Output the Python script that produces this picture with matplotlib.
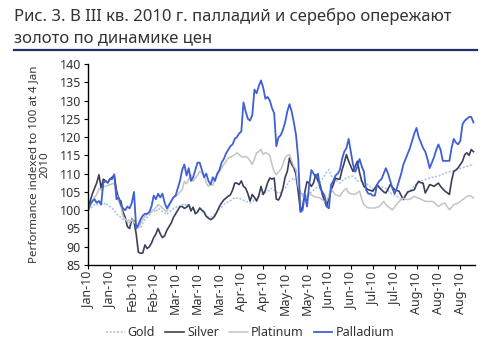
import matplotlib
matplotlib.use("Agg")
import matplotlib.pyplot as plt
import numpy as np

plt.rcParams['font.family'] = ['Noto Sans', 'DejaVu Sans']

title_lines = ["Рис. 3. В III кв. 2010 г. палладий и серебро опережают",
               "золото по динамике цен"]
y_label = "Performance indexed to 100 at 4 Jan\n2010"
series_names = ["Gold", "Silver", "Platinum", "Palladium"]
tick_labels = ["Jan-10", "Jan-10", "Feb-10", "Feb-10", "Mar-10", "Mar-10", "Mar-10",
               "Apr-10", "Apr-10", "May-10", "May-10", "Jun-10", "Jun-10", "Jul-10",
               "Jul-10", "Aug-10", "Aug-10", "Aug-10"]
y_ticks = [85, 90, 95, 100, 105, 110, 115, 120, 125, 130, 135, 140]

# trading-day readings, starting 4 Jan 2010
gold = [100, 100.5, 101, 101.5, 101.3, 102.5, 101.8, 101.5, 102, 101.3,
        101, 100.5, 100, 99, 98.5, 98, 97.5, 97.2, 96.8, 97.5,
        97.8, 97, 96, 95.5, 95.2, 96.5, 97.5, 98, 98.5, 99.5,
        100, 99.5, 100.5, 100.2, 99.6, 99.4, 98.8, 99.5, 100, 100.4,
        100.6, 101.2, 101, 101.5, 101.8, 101, 101.5, 100.6, 100.5, 99.5,
        99.8, 100.4, 100.2, 99, 98.5, 98.2, 98, 98.4, 99, 99.6,
        100.3, 100.8, 101.5, 102, 102.2, 102.6, 103, 103.5, 103.3, 103.3,
        103, 102.7, 102.5, 102.2, 102, 102.2, 102.8, 103.2, 103.8, 104.2,
        104.5, 104.8, 105.2, 105.5, 106, 105.5, 105, 104.6, 104.8, 105.5,
        106, 107, 108, 108.4, 108.8, 108, 106, 104.2, 104.5, 104,
        103.8, 104.2, 105, 105.5, 106, 106.5, 107.5, 108.5, 109.5, 110.5,
        111.1, 109.5, 108.8, 108.2, 107.8, 107.4, 108, 108.5, 108.8, 109,
        109.2, 109.3, 108.8, 108, 108.2, 108, 107.5, 107.2, 107, 106.3,
        105.6, 105.8, 106.2, 106.5, 106.3, 106.1, 106, 105.3, 104.7, 104.5,
        104.2, 103.8, 103.3, 102.9, 103.5, 104.2, 104.8, 105.4, 106, 106.6,
        107.2, 107.6, 108, 108.2, 108.4, 108.6, 108.8, 109, 109, 109.2,
        109.3, 109.6, 109.9, 110.2, 110.4, 110.5, 110.6, 110.8, 111.1, 111.2,
        111.4, 111.6, 111.8, 112, 112.1, 112.3, 112.5]

silver = [100, 102.5, 104.5, 106, 107.5, 109.7, 106, 108.5, 108, 107.5,
          108.5, 109, 109.5, 105.5, 103, 102.5, 99.5, 98, 95.5, 95,
          97.5, 97, 93.5, 88.5, 88.2, 88.3, 90.5, 89.5, 90, 91,
          92.5, 93.5, 95, 93.5, 92.5, 93, 94.5, 95.5, 96.5, 98,
          99, 100, 101, 101, 100.5, 100.8, 101.5, 99.8, 100.8, 99,
          99.5, 100.6, 100, 99.5, 98.3, 97.8, 97.4, 97.8, 98.5, 99.7,
          101, 102, 102.8, 103.3, 103.8, 104.2, 105.5, 107.4, 107.4, 107,
          108, 106.5, 106, 104.5, 102.5, 104.3, 103.5, 102.5, 104, 106.5,
          104.3, 105.5, 107.5, 108.8, 108.5, 108.8, 103, 102.8, 104, 106,
          109, 110.6, 114.3, 112.5, 111.6, 109.7, 105, 99.7, 101, 105,
          107.8, 107.4, 106.5, 107.5, 109.7, 108, 107, 104.3, 102.5, 101,
          103.5, 105.5, 107, 108.8, 108.5, 108.5, 111, 113, 115.2, 113.4,
          112, 110.6, 112, 113.4, 110.2, 108, 106.5, 106, 105.6, 105.4,
          105.2, 106, 107, 106.2, 105.6, 105, 104.7, 105.8, 107, 106.3,
          105.6, 105.4, 105.2, 104, 102.9, 104, 105, 105.2, 105.4, 105.6,
          107, 107.9, 107.5, 107.4, 104.7, 105.8, 107, 106.8, 106.5, 107,
          107.4, 106.5, 105.8, 105.2, 104.8, 104.3, 108, 110.6, 111, 111.6,
          112.5, 113.4, 115.2, 115.7, 115, 116.6, 116]

platinum = [100, 101.5, 102.4, 103.5, 104.3, 106, 105.5, 106.5, 106.5, 106.8,
            107, 107.2, 107.4, 104.3, 102.5, 101, 98.3, 97.5, 96.9, 96.5,
            97.4, 96.8, 96, 95.1, 96.5, 97.5, 98.3, 98.8, 99.3, 99.7,
            100.1, 100.8, 101.5, 101.2, 100.6, 100.1, 99.7, 101, 102.4, 103.5,
            103.8, 104.2, 105, 105.6, 107.9, 107.2, 108.5, 109.7, 107.9, 108.8,
            109.5, 110.6, 110.2, 109.7, 107.4, 106.5, 107.2, 106.8, 108.8, 109.5,
            110.6, 111.5, 112.5, 113.3, 114.3, 114.5, 114.8, 115.2, 115.7, 115.2,
            114.7, 114.5, 114.7, 114.3, 113.5, 112.5, 114, 115.7, 116, 116.6,
            115.2, 115.8, 115.5, 115, 112.5, 110.6, 109.7, 110.5, 111.1, 112.5,
            114.3, 115, 115.2, 113.5, 112, 111.1, 106.5, 105, 103.8, 103.3,
            104, 104.7, 104.2, 103.8, 103.6, 103.5, 103.3, 102.8, 102.4, 102.5,
            104, 106, 105, 104.2, 104, 103.8, 104.8, 105.5, 106, 104.7,
            104.5, 104.4, 104.3, 104.8, 105.2, 103, 101.5, 101, 100.6, 100.6,
            100.6, 100.6, 100.8, 101, 101.7, 102.4, 101.5, 101, 100.5, 100.1,
            100.8, 101.6, 102.4, 102.8, 103.3, 103, 102.9, 103, 103.4, 103.8,
            103.5, 103.3, 103, 102.7, 102.4, 102.4, 102.4, 102.4, 102.2, 101.5,
            101, 101.4, 101.8, 101.9, 101, 100.1, 100.8, 101.5, 101.7, 101.9,
            102.4, 102.9, 103.3, 103.7, 104, 103.8, 103.3]

palladium = [100, 101.5, 102.5, 103, 102, 102.5, 101.5, 107.5, 108, 107.5,
             108.5, 108.5, 109.8, 103, 103.5, 101.5, 100.5, 100, 101, 100.5,
             102, 105, 95, 96, 97.5, 98.5, 99, 99, 99.5, 101,
             104, 103, 104.5, 103.5, 104.5, 102, 100.5, 101.5, 102.5, 103.5,
             104, 106, 108, 111, 112.5, 109.5, 111.5, 108, 109, 111,
             113, 113, 111, 109, 110, 108, 107, 109, 108, 110,
             111, 113, 114, 115.5, 116.5, 117.5, 118, 119.5, 120, 121,
             121.5, 129.5, 127, 125, 124.5, 126, 133, 132, 134, 135.5,
             133.5, 130.5, 131, 130, 128, 126.5, 117.5, 120, 120.5, 122,
             124, 127, 129, 127, 124, 120.5, 114, 99.5, 100, 104.5,
             101, 107, 111, 110, 109, 110, 106, 105, 104, 101,
             100.5, 107, 108, 109.5, 110, 111, 114, 116, 117, 119.5,
             116, 112.5, 110.5, 112, 114, 112, 110.5, 105.5, 104.5, 104.5,
             104, 104, 107, 108, 108.5, 110, 111.5, 110, 108, 106,
             104.5, 106, 108, 110, 112.5, 114, 115.5, 117, 119, 121,
             122.5, 120, 118.5, 117, 116, 114, 111.5, 113, 114.5, 116.5,
             118, 116.5, 113.5, 113.5, 113.5, 113.5, 117, 119.5, 118.5, 118,
             119, 123.5, 124.5, 125, 125.5, 125.5, 124]

colors = {"Gold": "#a9c6e6", "Silver": "#3b3f5a", "Platinum": "#c4c4c4",
          "Palladium": "#3f5fd6"}
styles = {"Gold": (0, (1.2, 1.0)), "Silver": "-", "Platinum": "-", "Palladium": "-"}
widths = {"Gold": 1.2, "Silver": 1.2, "Platinum": 1.1, "Palladium": 1.3}

fig = plt.figure(figsize=(4.9, 3.47), dpi=100)
ax = fig.add_axes([88/490, 1-265/347, (475-88)/490, (265-64)/347])

data = {"Gold": gold, "Silver": silver, "Platinum": platinum, "Palladium": palladium}
for name in series_names:
    vals = data[name]
    ax.plot(np.arange(len(vals)), vals, color=colors[name], linestyle=styles[name],
            linewidth=widths[name], label=name)

ax.set_xlim(0, 176.7)
ax.set_ylim(85, 140)
ax.set_yticks(y_ticks)
ax.set_xticks(np.arange(len(tick_labels)) * 10)
ax.set_xticklabels(tick_labels, rotation=90)
for s in ["top", "right"]:
    ax.spines[s].set_visible(False)
for s in ["left", "bottom"]:
    ax.spines[s].set_color("black")
    ax.spines[s].set_linewidth(1.0)
ax.tick_params(axis="both", direction="out", length=3, width=0.8, colors="black",
               labelsize=9, labelcolor="#333333", pad=2)
ax.set_ylabel(y_label, fontsize=8.3, color="#333333", labelpad=7, linespacing=1.0)

fig.text(14/490, 1-16/347, title_lines[0], fontsize=12, color="#333333",
         va="center", ha="left")
fig.text(14/490, 1-38/347, title_lines[1], fontsize=12, color="#333333",
         va="center", ha="left")
fig.add_artist(plt.Line2D([14/490, 477/490], [1-50/347, 1-50/347],
                          color="#1f2f6e", linewidth=1.6, transform=fig.transFigure))

leg = fig.legend(loc="center", bbox_to_anchor=(250/490, 1-333/347), ncol=4, frameon=False,
                 fontsize=9, handlelength=1.5, handletextpad=0.25, columnspacing=0.8)
for t in leg.get_texts():
    t.set_color("#333333")

fig.savefig("out.png", dpi=100)
